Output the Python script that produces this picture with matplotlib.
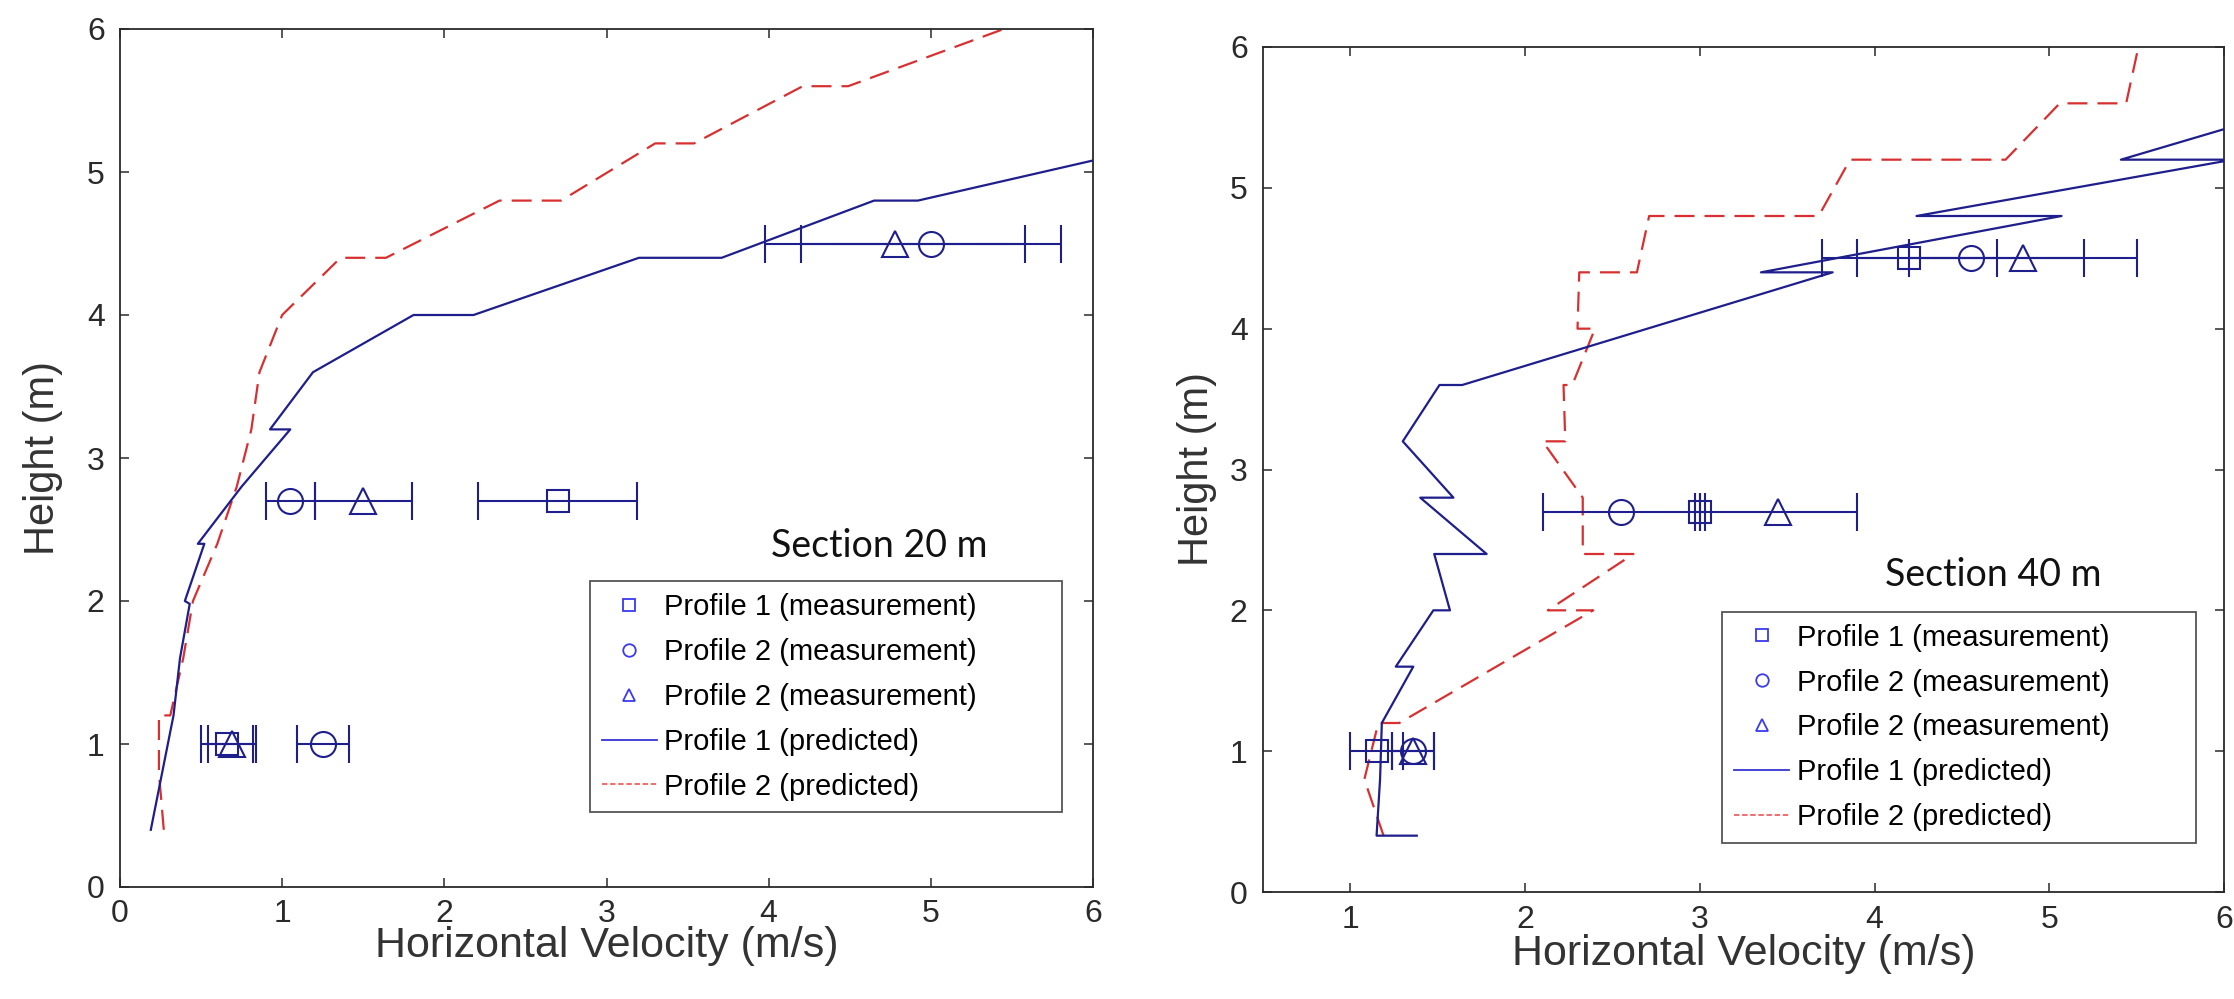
import numpy as np, matplotlib
matplotlib.use("Agg")
import matplotlib.pyplot as plt
from matplotlib.lines import Line2D

plt.rcParams.update({
    "font.family": "sans-serif", "font.sans-serif": ["Liberation Sans", "DejaVu Sans"],
    "xtick.direction": "in", "ytick.direction": "in", "xtick.top": True, "ytick.right": True,
    "xtick.major.size": 6.5, "ytick.major.size": 6.5, "xtick.major.width": 1.1, "ytick.major.width": 1.1,
    "axes.linewidth": 1.3, "axes.edgecolor": "#2a2a2a",
    "xtick.labelsize": 23, "ytick.labelsize": 23, "xtick.color": "#2a2a2a", "ytick.color": "#2a2a2a",
})
BLUE, RED = "#1e1e8c", "#d83030"

# ---- Section 20 m ----
p1_pred_20_v = [0.19, 0.26, 0.33, 0.37, 0.43, 0.40, 0.52, 0.48, 0.75, 1.05, 0.925, 1.19, 1.81, 2.18, 3.20, 3.71, 4.65, 4.92, 6.46]
p1_pred_20_h = [0.4, 0.8, 1.2, 1.6, 1.98, 2.0, 2.4, 2.4, 2.8, 3.2, 3.2, 3.6, 4.0, 4.0, 4.4, 4.4, 4.8, 4.8, 5.2]
p2_pred_20_v = [0.27, 0.24, 0.24, 0.31, 0.39, 0.45, 0.60, 0.72, 0.81, 0.86, 1.00, 1.36, 1.64, 2.34, 2.72, 3.30, 3.54, 4.21, 4.49, 5.45]
p2_pred_20_h = [0.4, 0.8, 1.2, 1.2, 1.6, 2.0, 2.4, 2.8, 3.2, 3.6, 4.0, 4.4, 4.4, 4.8, 4.8, 5.2, 5.2, 5.6, 5.6, 6.0]
meas_20_h = [1.0, 2.7, 4.5]
sq_20_v = [0.66, 2.70, np.nan];  sq_20_err = [0.16, 0.49, np.nan]
ci_20_v = [1.25, 1.05, 5.00];    ci_20_err = [0.16, 0.15, 0.80]
tr_20_v = [0.69, 1.50, 4.78];    tr_20_err = [0.15, 0.30, 0.80]

# ---- Section 40 m ----
p1_pred_40_v = [1.38, 1.15, 1.17, 1.18, 1.36, 1.26, 1.475, 1.57, 1.48, 1.78, 1.40, 1.59, 1.30, 1.51, 1.64, 3.76, 3.35, 5.07, 4.24, 6.05, 5.41, 6.5]
p1_pred_40_h = [0.4, 0.4, 0.8, 1.2, 1.6, 1.6, 2.0, 2.0, 2.4, 2.4, 2.8, 2.8, 3.2, 3.6, 3.6, 4.4, 4.4, 4.8, 4.8, 5.2, 5.2, 5.6]
p2_pred_40_v = [1.19, 1.08, 1.16, 1.28, 2.39, 2.13, 2.62, 2.33, 2.33, 2.10, 2.23, 2.22, 2.27, 2.40, 2.30, 2.31, 2.64, 2.71, 3.68, 3.86, 4.75, 5.06, 5.44, 5.51]
p2_pred_40_h = [0.4, 0.8, 1.2, 1.2, 2.0, 2.0, 2.4, 2.4, 2.8, 3.2, 3.2, 3.6, 3.6, 4.0, 4.0, 4.4, 4.4, 4.8, 4.8, 5.2, 5.2, 5.6, 5.6, 6.0]
meas_40_h = [1.0, 2.7, 4.5]
sq_40_v = [1.15, 3.00, 4.20];  sq_40_err = [0.15, 0.03, 0.50]
ci_40_v = [1.36, 2.55, 4.55];  ci_40_err = [0.12, 0.45, 0.65]
tr_40_v = [1.36, 3.45, 4.85];  tr_40_err = [0.12, 0.45, 0.65]

labels = ["Profile 1 (measurement)", "Profile 2 (measurement)", "Profile 2 (measurement)",
          "Profile 1 (predicted)", "Profile 2 (predicted)"]

def panel(ax, p1v, p1h, p2v, p2h, mh, meas, xlim, xticks, section, sec_xy, leg_box):
    ax.plot(p1v, p1h, "-", color=BLUE, lw=1.6, zorder=3)
    ax.plot(p2v, p2h, color=RED, lw=1.6, ls=(0, (9, 4.5)), zorder=2)
    for (v, err), mk, ms in zip(meas, ["s", "o", "^"], [16, 18, 19]):
        ax.errorbar(v, mh, xerr=err, fmt=mk, ms=ms, mfc="none", mec=BLUE, mew=1.5,
                    color=BLUE, ecolor=BLUE, elinewidth=1.5, capsize=14, capthick=1.5, zorder=4)
    ax.set(xlim=xlim, ylim=(0, 6), xticks=xticks, yticks=range(7))
    ax.tick_params(axis="x", pad=9); ax.tick_params(axis="y", pad=11)
    ax.set_xlabel("Horizontal Velocity (m/s)", fontsize=31, color="#333", va="center")
    ax.set_ylabel("Height (m)", fontsize=30, color="#333", va="center")
    ax.text(*sec_xy, section, transform=ax.transAxes, fontsize=27, family="Lato",
            ha="center", va="center", color="#111")
    handles = [Line2D([], [], ls="none", marker="s", ms=8, mfc="none", mec="#3a3aee", mew=1.3),
               Line2D([], [], ls="none", marker="o", ms=9, mfc="none", mec="#3a3aee", mew=1.3),
               Line2D([], [], ls="none", marker="^", ms=9, mfc="none", mec="#3a3aee", mew=1.3),
               Line2D([], [], color="#3535d0", lw=1.3),
               Line2D([], [], color="#f06060", lw=1.3, ls=(0, (3, 1.5)))]
    leg = ax.legend(handles, labels, loc="lower left", bbox_to_anchor=leg_box, mode="expand",
                    fontsize=21, frameon=True, fancybox=False, edgecolor="#555", framealpha=1,
                    borderpad=0.4, labelspacing=0.58, handlelength=1.9, handletextpad=0.25,
                    borderaxespad=0)
    leg.get_frame().set_linewidth(1.3)

fig = plt.figure(figsize=(22.34, 9.99), dpi=100)
ax1 = fig.add_axes([120/2234, 1-887/999, 973/2234, 858/999])
ax2 = fig.add_axes([1263/2234, 1-892/999, 961/2234, 845/999])

panel(ax1, p1_pred_20_v, p1_pred_20_h, p2_pred_20_v, p2_pred_20_h, meas_20_h,
      [(sq_20_v, sq_20_err), (ci_20_v, ci_20_err), (tr_20_v, tr_20_err)],
      (0, 6), range(7), "Section 20 m", (0.78, 0.398), (0.483, 0.087, 0.485, 0.27))
ax1.xaxis.set_label_coords(0.5, -0.069); ax1.yaxis.set_label_coords(-0.079, 0.5)

panel(ax2, p1_pred_40_v, p1_pred_40_h, p2_pred_40_v, p2_pred_40_h, meas_40_h,
      [(sq_40_v, sq_40_err), (ci_40_v, ci_40_err), (tr_40_v, tr_40_err)],
      (0.5, 6), range(1, 7), "Section 40 m", (0.76, 0.375), (0.478, 0.058, 0.493, 0.275))
ax2.xaxis.set_label_coords(0.5, -0.073); ax2.yaxis.set_label_coords(-0.069, 0.5)

fig.savefig("out.png", dpi=100, facecolor="white")
